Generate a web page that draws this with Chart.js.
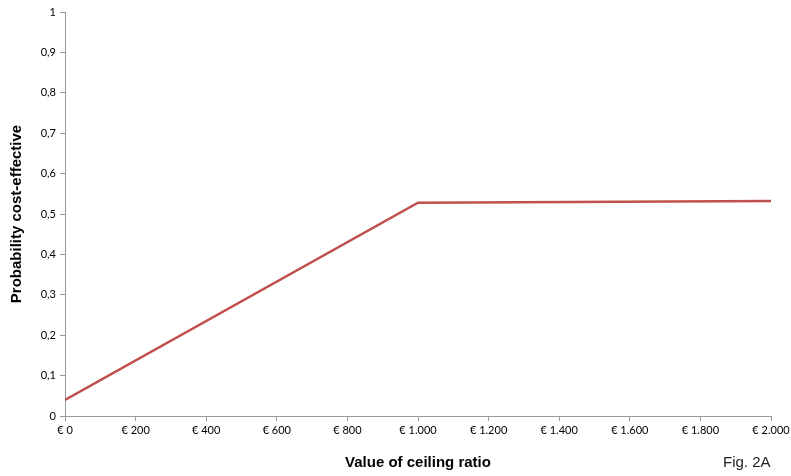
<!DOCTYPE html>
<html>
<head>
<meta charset="utf-8">
<script src="https://cdn.jsdelivr.net/npm/chart.js@4/dist/chart.umd.min.js"></script>
<style>
    html, body { margin: 0; padding: 0; background: #fff; }
    #wrap { position: relative; width: 791px; height: 476px; }
    #figLabel {
        position: absolute; left: 723px; top: 453px;
        font-family: "Liberation Sans", Arial, sans-serif; font-size: 15px; color: #222;
    }
</style>
</head>
<body>
<div id="wrap">
    <canvas id="grafica" width="791" height="476"></canvas>
    <div id="figLabel">Fig. 2A</div>
</div>
<script>
// Datos
const ceilingValues = [0, 1000, 2000];
const probabilities = [0.04, 0.528, 0.532];
const xTicks = [0, 200, 400, 600, 800, 1000, 1200, 1400, 1600, 1800, 2000];
const yTicks = [0, 0.1, 0.2, 0.3, 0.4, 0.5, 0.6, 0.7, 0.8, 0.9, 1];

const puntos = ceilingValues.map((v, i) => ({ x: v, y: probabilities[i] }));

const fmtEuro = v => "€ " + v.toLocaleString("de-DE");
const fmtProb = v => String(Math.round(v * 10) / 10).replace(".", ",");

const tickFont = { family: "Lato, 'Open Sans', sans-serif", size: 11 };
const titleFont = { family: "'Liberation Sans', Arial, sans-serif", size: 15, weight: "bold" };

const ctx = document.getElementById("grafica").getContext("2d");
new Chart(ctx, {
    type: "line",
    data: {
        datasets: [{
            data: puntos,
            borderColor: "#c0504d",
            borderWidth: 2.5,
            pointRadius: 0,
            fill: false,
            tension: 0
        }]
    },
    options: {
        responsive: false,
        animation: false,
        layout: { padding: { top: 12, right: 20, left: 8, bottom: 0 } },
        plugins: { legend: { display: false }, tooltip: { enabled: false } },
        scales: {
            x: {
                type: "linear",
                min: 0,
                max: 2000,
                afterBuildTicks: axis => { axis.ticks = xTicks.map(v => ({ value: v })); },
                afterFit: axis => { axis.height = 60; axis.paddingRight = 0; axis.paddingLeft = 0; },
                border: { color: "#999", width: 1 },
                grid: { drawOnChartArea: false, color: "#999", tickLength: 5 },
                ticks: { color: "#000", font: tickFont, maxRotation: 0, padding: 3, callback: v => fmtEuro(v) },
                title: { display: true, text: "Value of ceiling ratio", color: "#000", font: titleFont, padding: { top: 23 } }
            },
            y: {
                min: 0,
                max: 1,
                afterBuildTicks: axis => { axis.ticks = yTicks.map(v => ({ value: v })); },
                afterFit: axis => { axis.width = 57; },
                border: { color: "#999", width: 1 },
                grid: { drawOnChartArea: false, color: "#999", tickLength: 5 },
                ticks: { color: "#000", font: tickFont, padding: 4, callback: v => fmtProb(v) },
                title: { display: true, text: "Probability cost-effective", color: "#000", font: titleFont, padding: 0 }
            }
        }
    }
});
</script>
</body>
</html>
